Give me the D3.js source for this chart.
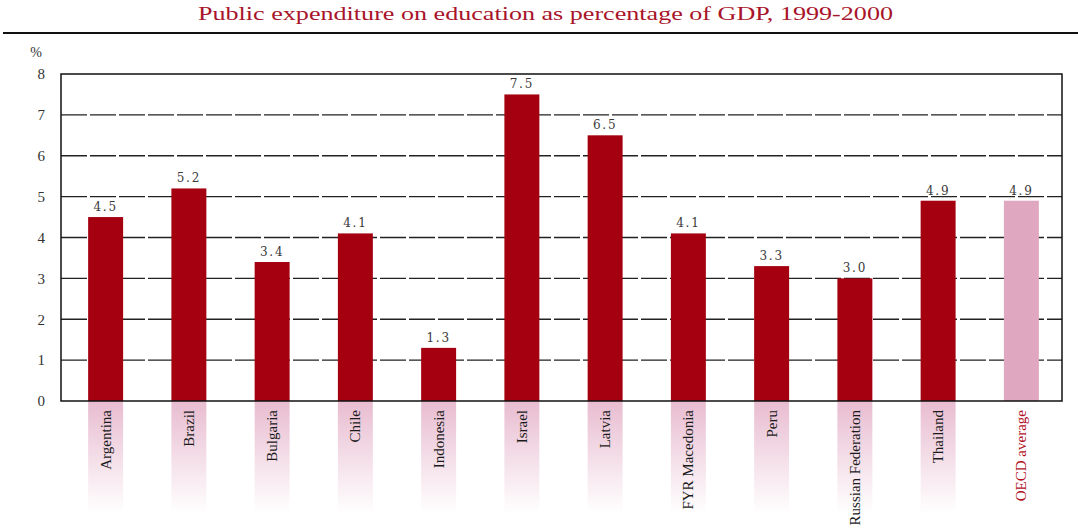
<!DOCTYPE html>
<html>
<head>
<meta charset="utf-8">
<script src="https://cdn.jsdelivr.net/npm/d3@7"></script>
<style>
  html, body { margin: 0; padding: 0; background: #fff; }
  svg { display: block; }
</style>
</head>
<body>
<svg id="chart" width="1078" height="529"></svg>
<script>
// Public expenditure on education, % of GDP, 1999-2000
const countries = ["Argentina", "Brazil", "Bulgaria", "Chile", "Indonesia", "Israel",
  "Latvia", "FYR Macedonia", "Peru", "Russian Federation", "Thailand", "OECD average"];
const values = [4.5, 5.2, 3.4, 4.1, 1.3, 7.5, 6.5, 4.1, 3.3, 3.0, 4.9, 4.9];
const valueLabels = ["4.5", "5.2", "3.4", "4.1", "1.3", "7.5", "6.5", "4.1", "3.3", "3.0", "4.9", "4.9"];
const yTicks = [0, 1, 2, 3, 4, 5, 6, 7, 8];
const averageName = "OECD average";

const svg = d3.select("#chart");
const serif = "'Liberation Serif', 'Times New Roman', serif";

const box = { left: 61, right: 1062, top: 74, bottom: 401 };

const x = d3.scaleBand()
  .domain(countries)
  .range([64, 1063])
  .paddingInner(0.58)
  .paddingOuter(0.29);

const y = d3.scaleLinear()
  .domain([0, 8])
  .range([box.bottom, box.top]);

// Title (set wide) and the rule beneath it
svg.append("text")
  .attr("x", 198)
  .attr("y", 20)
  .attr("font-family", serif)
  .attr("font-size", 18)
  .attr("fill", "#a8142a")
  .attr("textLength", 695)
  .attr("lengthAdjust", "spacingAndGlyphs")
  .text("Public expenditure on education as percentage of GDP, 1999-2000");

svg.append("line")
  .attr("x1", 3).attr("x2", 1078)
  .attr("y1", 33).attr("y2", 33)
  .attr("stroke", "#111")
  .attr("stroke-width", 2);

// Unit label
svg.append("text")
  .attr("x", 36).attr("y", 57)
  .attr("text-anchor", "middle")
  .attr("font-family", serif)
  .attr("font-size", 14)
  .attr("fill", "#333")
  .text("%");

// Fading band under each country's label
const defs = svg.append("defs");
const grad = defs.append("linearGradient")
  .attr("id", "labelFade")
  .attr("x1", 0).attr("y1", 0).attr("x2", 0).attr("y2", 1);
grad.append("stop").attr("offset", "0%").attr("stop-color", "#e8bcd0");
grad.append("stop").attr("offset", "100%").attr("stop-color", "#ffffff");

svg.append("g")
  .selectAll("rect")
  .data(countries.filter(c => c !== averageName))
  .join("rect")
  .attr("x", d => x(d))
  .attr("y", box.bottom)
  .attr("width", x.bandwidth())
  .attr("height", 112)
  .attr("fill", "url(#labelFade)");

// Dashed gridlines
svg.append("g")
  .selectAll("line")
  .data(yTicks.filter(t => t > 0 && t < 8))
  .join("line")
  .attr("x1", box.left).attr("x2", box.right)
  .attr("y1", d => y(d)).attr("y2", d => y(d))
  .attr("stroke", "#222")
  .attr("stroke-width", 1.3)
  .attr("stroke-dasharray", "26,3");

// Y axis tick numbers
const yAxis = d3.axisLeft(y).tickValues(yTicks).tickSize(0).tickPadding(14);
const yg = svg.append("g")
  .attr("transform", `translate(${box.left},0)`)
  .call(yAxis);
yg.select(".domain").remove();
yg.selectAll("text")
  .attr("font-family", serif)
  .attr("font-size", 15)
  .attr("fill", "#333")
  .attr("x", -16);

// Bars
svg.append("g")
  .selectAll("rect")
  .data(countries)
  .join("rect")
  .attr("x", d => x(d))
  .attr("y", (d, i) => y(values[i]))
  .attr("width", x.bandwidth())
  .attr("height", (d, i) => y(0) - y(values[i]))
  .attr("fill", d => d === averageName ? "#dfa7c0" : "#a50010");

// Value labels
svg.append("g")
  .selectAll("text")
  .data(countries)
  .join("text")
  .attr("x", d => x(d) + x.bandwidth() / 2)
  .attr("y", (d, i) => y(values[i]) - 6)
  .attr("text-anchor", "middle")
  .attr("font-family", "'DejaVu Serif', serif")
  .attr("font-size", 12)
  .attr("letter-spacing", 1.8)
  .attr("fill", "#3a3a3a")
  .text((d, i) => valueLabels[i]);

// Plot frame
svg.append("rect")
  .attr("x", box.left).attr("y", box.top)
  .attr("width", box.right - box.left)
  .attr("height", box.bottom - box.top)
  .attr("fill", "none")
  .attr("stroke", "#111")
  .attr("stroke-width", 1.5);

// Rotated category labels
const xAxis = d3.axisBottom(x).tickSize(0).tickPadding(0);
const xg = svg.append("g")
  .attr("transform", `translate(0,${box.bottom})`)
  .call(xAxis);
xg.select(".domain").remove();
xg.selectAll("text")
  .attr("font-family", serif)
  .attr("font-size", 15)
  .attr("fill", d => d === averageName ? "#b0101f" : "#1a1a1a")
  .attr("text-anchor", "end")
  .attr("dominant-baseline", "central")
  .attr("dy", null)
  .attr("transform", "translate(0,9) rotate(-90)")
  .attr("y", 0)
  .attr("x", 0);
</script>
</body>
</html>
